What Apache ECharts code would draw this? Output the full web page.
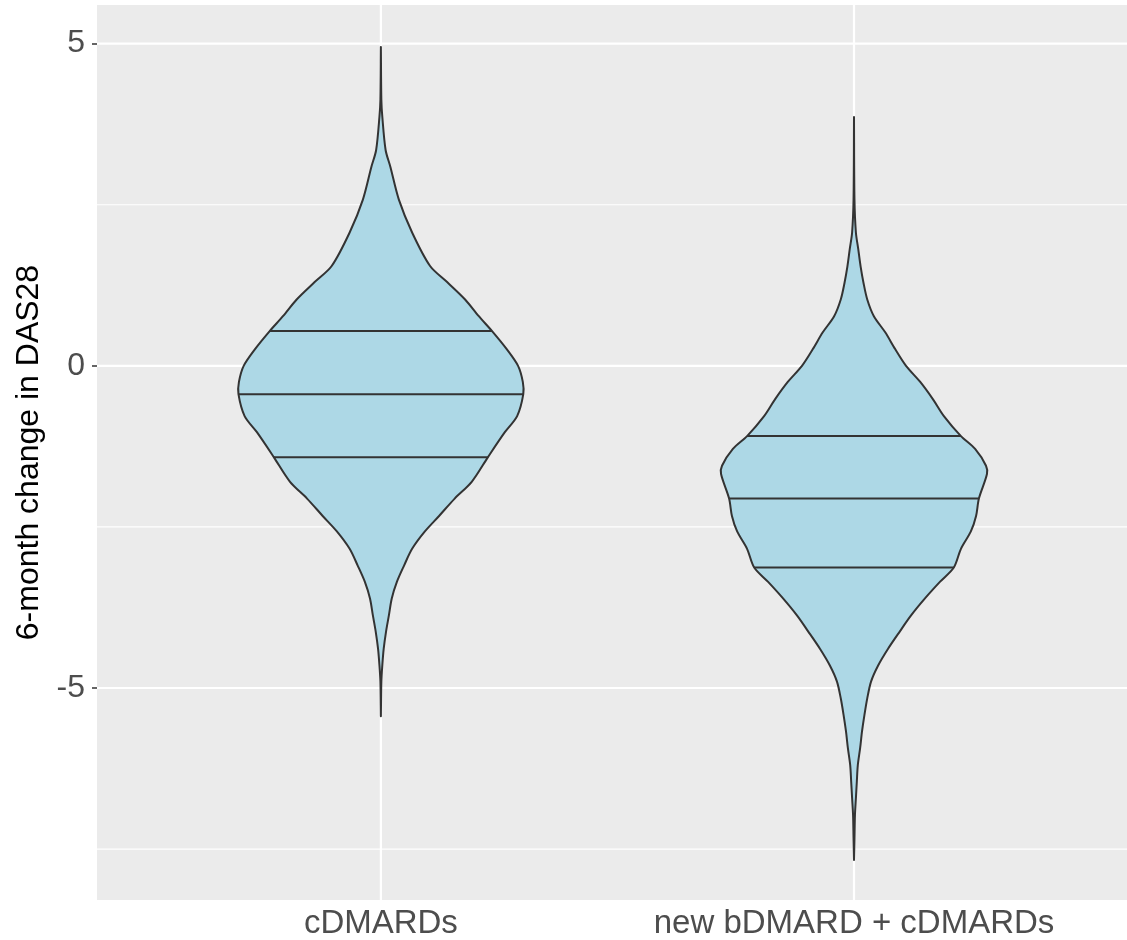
<!DOCTYPE html>
<html>
<head>
<meta charset="utf-8">
<script src="https://cdn.jsdelivr.net/npm/echarts@6/dist/echarts.min.js"></script>
<style>
  html, body { margin: 0; padding: 0; background: #ffffff; }
  #chart { width: 1127px; height: 940px; }
</style>
</head>
<body>
<div id="chart"></div>
<script>
// ---- data ----
const categories = ['cDMARDs', 'new bDMARD + cDMARDs'];
const yMajorTicks = [-5, 0, 5];
const yMinorTicks = [-7.5, -2.5, 2.5];

// cDMARDs violin outline: y value and half-width (in x-axis units)
const cdY = [4.95, 4.13, 3.87, 3.35, 3.09, 2.58, 2.07, 1.55, 1.30, 1.03, 0.77, 0.54, 0.26, 0.00,
  -0.25, -0.44, -0.78, -1.03, -1.42, -1.80, -2.06, -2.33, -2.57, -2.84, -3.10, -3.35, -3.61,
  -3.87, -4.12, -4.39, -4.65, -4.90, -5.44];
const cdHalfWidth = [0, 0.001, 0.003, 0.010, 0.020, 0.038, 0.066, 0.104, 0.140, 0.178, 0.207, 0.235,
  0.266, 0.290, 0.300, 0.301, 0.288, 0.262, 0.226, 0.192, 0.156, 0.123, 0.093, 0.066, 0.049,
  0.034, 0.023, 0.017, 0.011, 0.006, 0.003, 0.001, 0];
const cdQuartiles = [0.54, -0.44, -1.42];

// new bDMARD + cDMARDs violin outline
const bdY = [3.86, 2.58, 2.07, 1.81, 1.54, 1.29, 1.03, 0.77, 0.52, 0.26, 0.00, -0.25, -0.52, -0.78,
  -1.09, -1.29, -1.55, -1.68, -2.06, -2.33, -2.57, -2.84, -3.13, -3.35, -3.61, -3.87, -4.12,
  -4.39, -4.65, -4.90, -5.16, -5.42, -5.67, -5.93, -6.20, -6.45, -6.71, -6.97, -7.33, -7.67];
const bdHalfWidth = [0, 0.001, 0.004, 0.009, 0.014, 0.020, 0.028, 0.042, 0.066, 0.087, 0.110, 0.140,
  0.167, 0.190, 0.226, 0.256, 0.279, 0.281, 0.264, 0.258, 0.247, 0.226, 0.211, 0.182, 0.150,
  0.121, 0.097, 0.072, 0.051, 0.036, 0.028, 0.022, 0.017, 0.013, 0.008, 0.006, 0.004, 0.002,
  0.001, 0];
const bdQuartiles = [-1.09, -2.06, -3.13];

const violins = [
  { y: cdY, w: cdHalfWidth, q: cdQuartiles },
  { y: bdY, w: bdHalfWidth, q: bdQuartiles }
];

function widthAt(v, yv) {
  const ys = v.y, ws = v.w;
  for (let i = 0; i < ys.length - 1; i++) {
    if ((yv <= ys[i] && yv >= ys[i + 1])) {
      const t = (ys[i] - yv) / (ys[i] - ys[i + 1]);
      return ws[i] + t * (ws[i + 1] - ws[i]);
    }
  }
  return 0;
}

const chart = echarts.init(document.getElementById('chart'), null, { renderer: 'canvas' });

const axisFont = 'Liberation Sans, Arial, sans-serif';

const option = {
  backgroundColor: '#ffffff',
  animation: false,
  grid: {
    left: 97, right: 0, top: 5, bottom: 38,
    show: true, backgroundColor: '#EBEBEB', borderWidth: 0
  },
  xAxis: {
    type: 'value',
    min: 0.4, max: 2.577,
    axisLine: { show: false },
    splitLine: { show: false },
    axisTick: { show: true, customValues: [1, 2], length: 5, lineStyle: { color: '#333333', width: 1.5 } },
    axisLabel: {
      customValues: [1, 2],
      formatter: function (v) { return categories[Math.round(v) - 1] || ''; },
      color: '#4D4D4D', fontSize: 33, fontFamily: axisFont, margin: 7
    }
  },
  yAxis: {
    type: 'value',
    min: -8.29, max: 5.6,
    name: '6-month change in DAS28',
    nameLocation: 'middle',
    nameGap: 50,
    nameTextStyle: { color: '#000000', fontSize: 32, fontFamily: axisFont },
    axisLine: { show: false },
    splitLine: { show: false },
    axisTick: { show: true, customValues: yMajorTicks, length: 5, lineStyle: { color: '#333333', width: 1.5 } },
    axisLabel: {
      customValues: yMajorTicks,
      formatter: function (v) { return String(v); },
      color: '#4D4D4D', fontSize: 32, fontFamily: axisFont, margin: 12
    }
  },
  series: [
    {
      type: 'custom',
      z: 1,
      silent: true,
      data: [0],
      renderItem: function (params, api) {
        const cs = params.coordSys;
        const children = [];
        yMinorTicks.forEach(function (v) {
          const p = api.coord([1, v]);
          children.push({ type: 'line', shape: { x1: cs.x, y1: p[1], x2: cs.x + cs.width, y2: p[1] },
            style: { stroke: '#ffffff', lineWidth: 1.1 } });
        });
        yMajorTicks.forEach(function (v) {
          const p = api.coord([1, v]);
          children.push({ type: 'line', shape: { x1: cs.x, y1: p[1], x2: cs.x + cs.width, y2: p[1] },
            style: { stroke: '#ffffff', lineWidth: 2.2 } });
        });
        [1, 2].forEach(function (c) {
          const p = api.coord([c, 0]);
          children.push({ type: 'line', shape: { x1: p[0], y1: cs.y, x2: p[0], y2: cs.y + cs.height },
            style: { stroke: '#ffffff', lineWidth: 2.2 } });
        });
        return { type: 'group', children: children };
      }
    },
    {
      type: 'custom',
      z: 2,
      data: [0, 1],
      encode: { x: 0 },
      renderItem: function (params, api) {
        const g = api.value(0);
        const v = violins[g];
        const center = g + 1;
        const right = v.y.map(function (yv, i) { return api.coord([center + v.w[i], yv]); });
        const left = v.y.map(function (yv, i) { return api.coord([center - v.w[i], yv]); }).reverse();
        const children = [{
          type: 'polygon',
          shape: { points: right.concat(left), smooth: 0.3 },
          style: { fill: '#ADD8E6', stroke: '#333333', lineWidth: 2, lineJoin: 'round' }
        }];
        v.q.forEach(function (qv) {
          const w = widthAt(v, qv);
          const a = api.coord([center - w, qv]);
          const b = api.coord([center + w, qv]);
          children.push({ type: 'line', shape: { x1: a[0], y1: a[1], x2: b[0], y2: b[1] },
            style: { stroke: '#333333', lineWidth: 2 } });
        });
        return { type: 'group', children: children };
      }
    }
  ]
};

chart.setOption(option);
</script>
</body>
</html>
